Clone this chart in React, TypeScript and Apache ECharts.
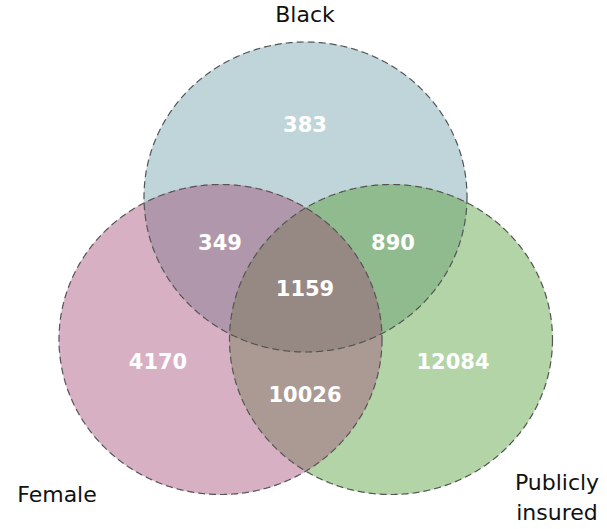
import React, { useEffect, useRef } from "react";
import * as echarts from "echarts";

// ---- data ----
const setNames = ["Black", "Female", "Publicly\ninsured"];
const regionKeys = ["100", "010", "001", "110", "101", "011", "111"];
const regionValues = [383, 4170, 12084, 349, 890, 10026, 1159];

// ---- layout / style (not data) ----
const ellipseGeom = [
  { cx: 305.5, cy: 197, rx: 161.5, ry: 155 }, // Black
  { cx: 220.5, cy: 339.5, rx: 161.5, ry: 155 }, // Female
  { cx: 391, cy: 339.5, rx: 161.5, ry: 155 }, // Publicly insured
];
const regionColors: Record<string, string> = {
  "100": "#bfd5da",
  "010": "#d8b0c4",
  "001": "#b2d4a6",
  "110": "#b097ab",
  "101": "#8fbb8f",
  "011": "#ab9a93",
  "111": "#968882",
};
const regionLabelPos: Record<string, [number, number]> = {
  "100": [305, 125],
  "010": [158, 362],
  "001": [453, 362],
  "110": [220, 243],
  "101": [393, 243],
  "011": [305, 395],
  "111": [305, 289],
};
const setLabelPos: [number, number][] = [
  [305, 14],
  [57, 494],
  [557, 497],
];

type Pt = [number, number];

function ellipsePoly(g: { cx: number; cy: number; rx: number; ry: number }, n = 720): Pt[] {
  const pts: Pt[] = [];
  for (let i = 0; i < n; i++) {
    const t = (i / n) * Math.PI * 2;
    pts.push([g.cx + g.rx * Math.cos(t), g.cy + g.ry * Math.sin(t)]);
  }
  return pts;
}

function clipPoly(subject: Pt[], clip: Pt[]): Pt[] {
  let output = subject;
  const n = clip.length;
  for (let i = 0; i < n; i++) {
    const a = clip[i];
    const b = clip[(i + 1) % n];
    const input = output;
    output = [];
    if (!input.length) break;
    const inside = (p: Pt) => (b[0] - a[0]) * (p[1] - a[1]) - (b[1] - a[1]) * (p[0] - a[0]) >= 0;
    const inter = (p: Pt, q: Pt): Pt => {
      const dx = q[0] - p[0], dy = q[1] - p[1];
      const ex = b[0] - a[0], ey = b[1] - a[1];
      const den = ex * dy - ey * dx;
      const t = (ex * (a[1] - p[1]) - ey * (a[0] - p[0])) / den;
      return [p[0] + dx * t, p[1] + dy * t];
    };
    for (let j = 0; j < input.length; j++) {
      const cur = input[j];
      const prev = input[(j - 1 + input.length) % input.length];
      const cIn = inside(cur), pIn = inside(prev);
      if (cIn) {
        if (!pIn) output.push(inter(prev, cur));
        output.push(cur);
      } else if (pIn) {
        output.push(inter(prev, cur));
      }
    }
  }
  return output;
}

function regionPoly(key: string, polys: Pt[][]): Pt[] {
  const idx = key.split("").map((c, i) => (c === "1" ? i : -1)).filter((i) => i >= 0);
  let p = polys[idx[0]];
  for (let k = 1; k < idx.length; k++) p = clipPoly(p, polys[idx[k]]);
  return p;
}

export default function App() {
  const ref = useRef<HTMLDivElement>(null);
  useEffect(() => {
    if (!ref.current) return;
    const chart = echarts.init(ref.current, null, { renderer: "svg" });
    const polys = ellipseGeom.map((g) => ellipsePoly(g));
    // draw order: singles, pairs, triple
    const order = [...regionKeys].sort(
      (a, b) => a.split("1").length - b.split("1").length
    );

    chart.setOption({
      animation: false,
      series: [
        {
          type: "custom",
          coordinateSystem: "none",
          silent: true,
          data: [0],
          renderItem: () => {
            const children: any[] = [];
            order.forEach((key) => {
              children.push({
                type: "polygon",
                shape: { points: regionPoly(key, polys) },
                style: { fill: regionColors[key], stroke: regionColors[key], lineWidth: 0.5 },
              });
            });
            polys.forEach((p) => {
              children.push({
                type: "polygon",
                shape: { points: p },
                style: { fill: "none", stroke: "#555555", lineWidth: 1.2, lineDash: [7, 4] },
              });
            });
            regionKeys.forEach((key, i) => {
              const [x, y] = regionLabelPos[key];
              children.push({
                type: "text",
                style: {
                  text: String(regionValues[i]),
                  x,
                  y,
                  fill: "#ffffff",
                  fontFamily: "DejaVu Sans",
                  fontWeight: "bold",
                  fontSize: 21,
                  align: "center",
                  verticalAlign: "middle",
                },
              });
            });
            setNames.forEach((name, i) => {
              const [x, y] = setLabelPos[i];
              children.push({
                type: "text",
                style: {
                  text: name,
                  x,
                  y,
                  fill: "#111111",
                  fontFamily: "DejaVu Sans",
                  fontSize: 22,
                  lineHeight: 30,
                  align: "center",
                  verticalAlign: "middle",
                },
              });
            });
            return { type: "group", children };
          },
        },
      ],
    });
    return () => chart.dispose();
  }, []);
  return (
    <div
      ref={ref}
      style={{ position: "fixed", left: 0, top: 0, width: 607, height: 529, background: "#ffffff" }}
    />
  );
}
